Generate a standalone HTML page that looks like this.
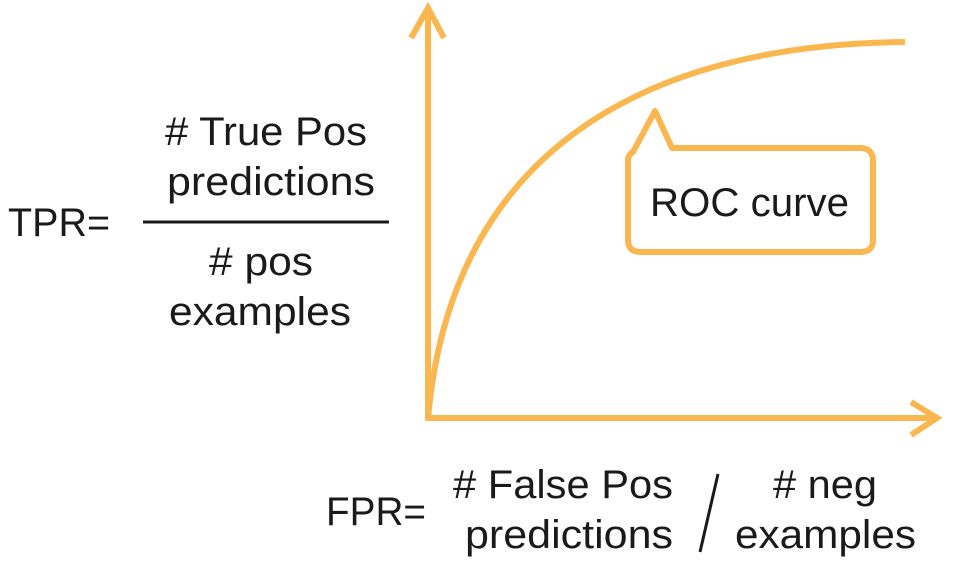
<!DOCTYPE html>
<html><head><meta charset="utf-8"><style>
html,body{margin:0;padding:0;background:#fff;}
svg{display:block;}
text{font-family:"Liberation Sans",sans-serif;font-size:40px;fill:#1a1a1a;}
</style></head><body>
<svg width="954" height="572" viewBox="0 0 954 572">
<g stroke="#FBB74F" stroke-width="6" fill="none" stroke-linecap="butt">
<line x1="428" y1="10" x2="428" y2="418"/>
<polyline points="411,38 428,8 444,38"/>
<line x1="425" y1="418" x2="935" y2="418"/>
<polyline points="911,402 937,418 911,435"/>
<path d="M428,418 C450,170 620,45 905,42"/>
<path d="M633,152 L655,111 L672,148 L860,148 Q873,148 873,161 L873,240 Q873,252 860,252 L641,252 Q628,252 628,240 L628,160 Q628,155 633,152 Z" stroke-linejoin="round"/>
</g>
<text x="650" y="216" textLength="199" lengthAdjust="spacingAndGlyphs">ROC curve</text>
<text x="8" y="236" textLength="102" lengthAdjust="spacingAndGlyphs">TPR=</text>
<text x="165" y="145" textLength="202" lengthAdjust="spacingAndGlyphs"># True Pos</text>
<text x="167" y="195" textLength="208" lengthAdjust="spacingAndGlyphs">predictions</text>
<line x1="143" y1="222" x2="389" y2="222" stroke="#1a1a1a" stroke-width="3"/>
<text x="209" y="275" textLength="104" lengthAdjust="spacingAndGlyphs"># pos</text>
<text x="169" y="325" textLength="182" lengthAdjust="spacingAndGlyphs">examples</text>
<text x="326" y="525" textLength="100" lengthAdjust="spacingAndGlyphs">FPR=</text>
<text x="453" y="498" textLength="220" lengthAdjust="spacingAndGlyphs"># False Pos</text>
<text x="465" y="548" textLength="208" lengthAdjust="spacingAndGlyphs">predictions</text>
<line x1="718" y1="474" x2="700" y2="552" stroke="#1a1a1a" stroke-width="3"/>
<text x="773" y="498" textLength="104" lengthAdjust="spacingAndGlyphs"># neg</text>
<text x="735" y="548" textLength="181" lengthAdjust="spacingAndGlyphs">examples</text>
</svg>
</body></html>
